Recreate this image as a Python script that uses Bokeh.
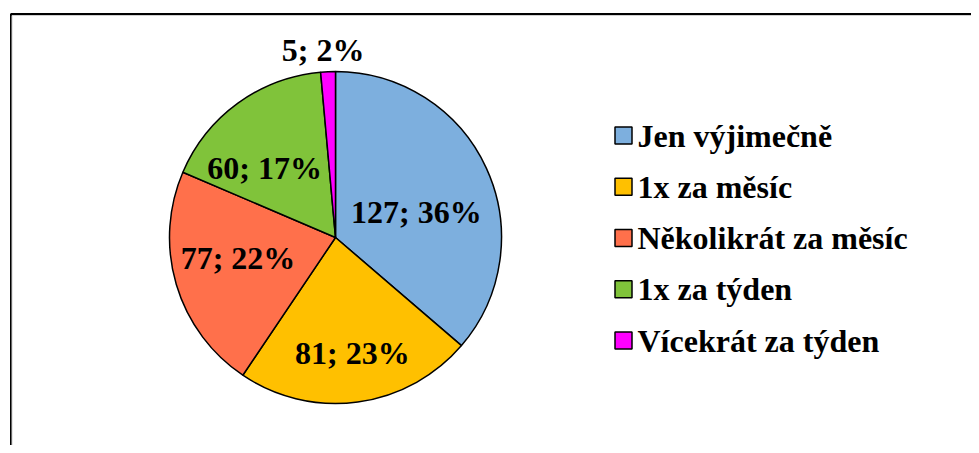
import math
from bokeh.plotting import figure
from bokeh.models import Range1d, ColumnDataSource
from bokeh.core.properties import value
from bokeh.embed import file_html
from bokeh.resources import INLINE

categories = ["Jen výjimečně", "1x za měsíc", "Několikrát za měsíc", "1x za týden", "Vícekrát za týden"]
counts = [127, 81, 77, 60, 5]
percents = [36, 23, 22, 17, 2]
colors = ["#7DAFDE", "#FFC000", "#FF704B", "#80C33A", "#FF00FF"]

# layout (screen-like coordinates: x right, y = -screen_y)
W, H = 971, 445
cx, cy, R = 335, -237, 166
label_r = [0.51, 0.705, 0.60, 0.60, 1.13]
label_shift_deg = [7.5, -0.6, 4.8, -9.4, -1.2]
FONT = "Liberation Serif"
FS = "32px"

p = figure(width=W, height=H, output_backend="svg", toolbar_location=None,
           x_range=Range1d(0, W), y_range=Range1d(-H, 0),
           min_border=0, outline_line_color=None)
p.axis.visible = False
p.grid.visible = False
p.background_fill_color = "white"
p.border_fill_color = "white"

total = sum(counts)
starts, ends, mids = [], [], []
acc = 0
for c in counts:
    a0 = math.pi / 2 - acc / total * 2 * math.pi
    acc += c
    a1 = math.pi / 2 - acc / total * 2 * math.pi
    starts.append(a0); ends.append(a1); mids.append((a0 + a1) / 2)

src = ColumnDataSource(dict(start=starts, end=ends, color=colors, cat=categories))
p.wedge(x=cx, y=cy, radius=R, start_angle="start", end_angle="end", direction="clock",
        fill_color="color", line_color="black", line_width=1.5, source=src)

labels = [f"{c}; {pc}%" for c, pc in zip(counts, percents)]
la = [m - math.radians(s) for m, s in zip(mids, label_shift_deg)]
lx = [cx + R * f * math.cos(a) for f, a in zip(label_r, la)]
ly = [cy + R * f * math.sin(a) for f, a in zip(label_r, la)]
p.text(x=lx, y=ly, text=labels, text_align="center", text_baseline="middle",
       text_font=value(FONT), text_font_style="bold", text_font_size=FS, text_color="black")

# legend
leg_x, leg_y0, leg_dy, sq = 623, -135, -51.25, 17
ys = [leg_y0 + i * leg_dy for i in range(len(categories))]
p.rect(x=[leg_x] * len(categories), y=ys, width=sq, height=sq, fill_color=colors,
       line_color="black", line_width=1.5)
p.text(x=[leg_x + 14] * len(categories), y=ys, text=categories, text_align="left",
       text_baseline="middle", text_font=value(FONT), text_font_style="bold",
       text_font_size=FS, text_color="black")

# chart-area frame (only top and left visible in the reference)
p.line(x=[10.5, 10.5, W + 5], y=[-H - 5, -13.5, -13.5], line_color="black", line_width=2)
p.line(x=[11.5, 11.5, W + 5], y=[-H - 5, -15, -15], line_color="#d0d0d0", line_width=1)

open("out.html", "w").write(file_html(p, INLINE))
